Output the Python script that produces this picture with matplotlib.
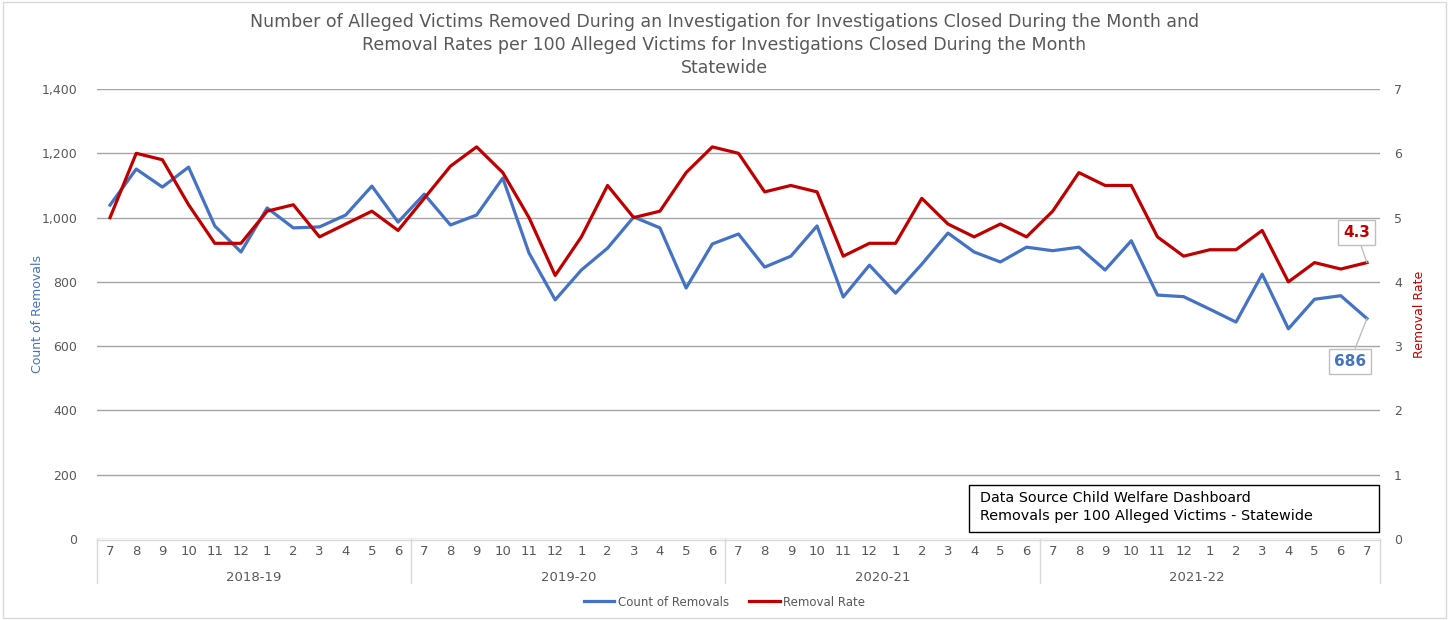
import matplotlib.pyplot as plt
from matplotlib.lines import Line2D
from matplotlib.patches import Rectangle

# monthly data, 7/2018 .. 7/2022
months = [7, 8, 9, 10, 11, 12, 1, 2, 3, 4, 5, 6] * 4 + [7]
fiscal_years = ["2018-19", "2019-20", "2020-21", "2021-22"]
removals = [1039, 1151, 1095, 1157, 974, 893, 1030, 968, 971, 1008, 1098, 986,
            1073, 977, 1008, 1123, 890, 744, 837, 905, 1002, 968, 781, 918,
            949, 846, 880, 974, 753, 852, 765, 855, 952, 893, 862, 908,
            897, 908, 837, 928, 759, 754, 715, 675, 824, 654, 746, 757, 686]
rate = [5.0, 6.0, 5.9, 5.2, 4.6, 4.6, 5.1, 5.2, 4.7, 4.9, 5.1, 4.8,
        5.3, 5.8, 6.1, 5.7, 5.0, 4.1, 4.7, 5.5, 5.0, 5.1, 5.7, 6.1,
        6.0, 5.4, 5.5, 5.4, 4.4, 4.6, 4.6, 5.3, 4.9, 4.7, 4.9, 4.7,
        5.1, 5.7, 5.5, 5.5, 4.7, 4.4, 4.5, 4.5, 4.8, 4.0, 4.3, 4.2, 4.3]

blue = "#4472C4"
red = "#C00000"
grey = "#595959"
x = list(range(len(months)))

fig = plt.figure(figsize=(14.49, 6.2), dpi=100)
fig.patches.append(Rectangle((0.002, 0.003), 0.996, 0.994, transform=fig.transFigure,
                             fill=False, edgecolor="#d9d9d9", lw=1))
ax = fig.add_axes([0.0669, 0.1306, 0.8855, 0.7258])
ax2 = ax.twinx()

ax.plot(x, removals, color=blue, lw=2.3, zorder=3)
ax2.plot(x, rate, color=red, lw=2.3, zorder=3)

ax.set_xlim(-0.5, len(x) - 0.5)
ax.set_ylim(0, 1400)
ax2.set_ylim(0, 7)
ax.set_yticks(range(0, 1401, 200))
ax.set_yticklabels([f"{v:,}" for v in range(0, 1401, 200)])
ax2.set_yticks(range(0, 8))
ax.grid(axis="y", color="#a6a6a6", lw=1)
ax.set_axisbelow(True)

for a in (ax, ax2):
    for s in a.spines.values():
        s.set_visible(False)
    a.tick_params(axis="y", length=0, labelsize=9, labelcolor=grey, pad=14)
ax2.tick_params(axis="y", pad=10)

ax.set_xticks(x)
ax.set_xticklabels(months)
ax.tick_params(axis="x", length=0, labelsize=9.5, labelcolor=grey, pad=4)

# fiscal year grouping under the month labels
xt = ax.get_xaxis_transform()
for i, fy in enumerate(fiscal_years):
    start = i * 12 - 0.5
    end = min(start + 12, len(x) - 0.5)
    ax.text((start + end) / 2, -0.085, fy, transform=xt, ha="center", va="center",
            fontsize=9.5, color=grey)
for b in [-0.5, 11.5, 23.5, 35.5, len(x) - 0.5]:
    ax.add_line(Line2D([b, b], [0, -0.098], transform=xt, color="#d9d9d9", lw=1,
                       clip_on=False))
ax.add_line(Line2D([-0.5, len(x) - 0.5], [-0.002, -0.002], transform=xt,
                   color="#d9d9d9", lw=1, clip_on=False))

ax.set_ylabel("Count of Removals", color=blue, fontsize=9, labelpad=-2)
ax2.set_ylabel("Removal Rate", color=red, fontsize=9, labelpad=8)

# last-value labels
ax2.annotate(f"{rate[-1]}", xy=(x[-1], rate[-1]), xytext=(x[-1] - 0.4, 4.77),
             ha="center", va="center", fontsize=11, fontweight="bold", color=red,
             bbox=dict(boxstyle="square,pad=0.35", fc="white", ec="#bfbfbf", lw=1),
             arrowprops=dict(arrowstyle="-", color="#bfbfbf", lw=1,
                             shrinkA=0, shrinkB=0))
ax.annotate(f"{removals[-1]}", xy=(x[-1], removals[-1]), xytext=(x[-1] - 0.65, 552),
            ha="center", va="center", fontsize=11, fontweight="bold", color=blue,
            bbox=dict(boxstyle="square,pad=0.35", fc="white", ec="#bfbfbf", lw=1),
            arrowprops=dict(arrowstyle="-", color="#bfbfbf", lw=1,
                            shrinkA=0, shrinkB=0))

# data source note
ax2.add_patch(Rectangle((0.6797, 0.0156), 0.3195, 0.1044, transform=ax2.transAxes,
                        fc="white", ec="black", lw=1, zorder=5, clip_on=False))
ax2.text(0.688, 0.0715, "Data Source Child Welfare Dashboard\n"
         "Removals per 100 Alleged Victims - Statewide",
         transform=ax2.transAxes, ha="left", va="center", fontsize=10.4,
         linespacing=1.3, color="black", zorder=6)

fig.text(0.5, 0.928, "Number of Alleged Victims Removed During an Investigation for "
         "Investigations Closed During the Month and\nRemoval Rates per 100 Alleged "
         "Victims for Investigations Closed During the Month\nStatewide",
         ha="center", va="center", fontsize=12.5, color=grey, linespacing=1.35)

handles = [Line2D([], [], color=blue, lw=2.3), Line2D([], [], color=red, lw=2.3)]
fig.legend(handles, ["Count of Removals", "Removal Rate"], loc="center",
           bbox_to_anchor=(0.5, 0.029), ncol=2, frameon=False, fontsize=8.5,
           labelcolor=grey, handlelength=2.6, columnspacing=1.7, handletextpad=0.3)

fig.savefig("out.png", dpi=100)
